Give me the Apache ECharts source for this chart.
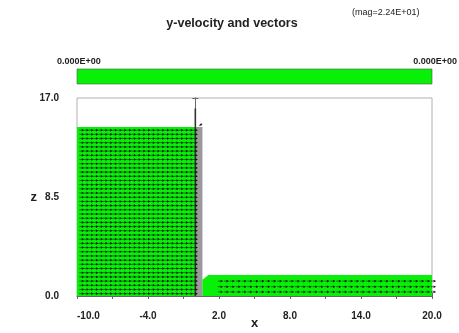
<!DOCTYPE html>
<html><head><meta charset="utf-8">
<script src="https://cdn.jsdelivr.net/npm/echarts@6/dist/echarts.min.js"></script>
<style>html,body{margin:0;padding:0;background:#fff;}#c{width:459px;height:333px;}</style>
</head><body><div id="c"></div>
<script>
// ---- data ----
const xTickLabels = [-10, -4, 2, 8, 14, 20];
const xTicks = [-10, -7, -4, -1, 2, 5, 8, 11, 14, 17, 20];
const zTickLabels = [0, 8.5, 17];
const zTicks = [0, 4.25, 8.5, 12.75, 17];
const colorbarLabels = ['0.000E+00', '0.000E+00'];
const titleText = 'y-velocity and vectors';
const magText = '(mag=2.24E+01)';

// fluid regions (x, z outlines)
const leftFluid = [[-10, 0], [-10, 14.5], [0, 14.5], [0, 0]];
const gapCells = [[0, 0], [0, 14.5], [0.6, 14.5], [0.6, 0]];
const rightFluid = [[0.6, 0], [0.6, 1.4], [1.1, 1.8], [20, 1.8], [20, 0]];
const wall = [[0, 0], [0, 16.1]];

// vector grid (cell positions) and speeds
const leftX = [-9.8,-9.4,-9.0,-8.6,-8.2,-7.8,-7.4,-7.0,-6.6,-6.2,-5.8,-5.4,-5.0,-4.6,-4.2,-3.8,-3.4,-3.0,-2.6,-2.2,-1.8,-1.4,-1.0,-0.6,-0.2];
const leftZ = [0.2,0.56,0.92,1.28,1.64,2.0,2.36,2.72,3.08,3.44,3.8,4.16,4.52,4.88,5.24,5.6,5.96,6.32,6.68,7.04,7.4,7.76,8.12,8.48,8.84,9.2,9.56,9.92,10.28,10.64,11.0,11.36,11.72,12.08,12.44,12.8,13.16,13.52,13.88,14.24];
const leftU = 21.0;
const rightX = [1.9,2.4,2.9,3.4,3.9,4.4,4.9,5.4,5.9,6.4,6.9,7.4,7.9,8.4,8.9,9.4,9.9,10.4,10.9,11.4,11.9,12.4,12.9,13.4,13.9,14.4,14.9,15.4,15.9,16.4,16.9,17.4,17.9,18.4,18.9,19.4,19.9];
const rightZ = [0.35, 0.8, 1.28];
const rightU = 22.4;
const extraVectors = [[0.3, 14.6, 15, 10]];

// ---- build ----
const vectors = [];
leftZ.forEach(z => leftX.forEach(x => vectors.push([x, z, leftU, 0])));
rightZ.forEach(z => rightX.forEach(x => vectors.push([x, z, rightU, 0])));
extraVectors.forEach(v => vectors.push(v));
const SC = 0.02;
const GREEN = '#08f008';
const FONT = '"Liberation Sans", Arial, sans-serif';

function polySeries(pts, fill) {
  return {
    type: 'custom', data: [0], silent: true, clip: false, z: 2,
    renderItem: (params, api) => ({
      type: 'polygon',
      shape: { points: pts.map(p => api.coord(p)) },
      style: { fill: fill }
    })
  };
}

const chart = echarts.init(document.getElementById('c'), null, { renderer: 'canvas' });
const axisLabelStyle = { color: '#222', fontSize: 10, fontWeight: 'bold', fontFamily: FONT };
chart.setOption({
  animation: false,
  backgroundColor: '#fff',
  grid: { left: 77, right: 27, top: 98, bottom: 37, containLabel: false, outerBoundsMode: 'none', show: true, borderColor: '#b0b0b0', borderWidth: 1, backgroundColor: 'transparent' },
  xAxis: [{
    type: 'value', min: -10, max: 20, position: 'bottom', offset: 9,
    name: 'x', nameLocation: 'middle', nameGap: 12, nameMoveOverlap: false,
    nameTextStyle: { color: '#222', fontSize: 13, fontWeight: 'bold', fontFamily: FONT, verticalAlign: 'top' },
    axisLine: { show: true, lineStyle: { color: '#666', width: 1 } },
    axisTick: { show: true, length: 3, customValues: xTicks, lineStyle: { color: '#666' } },
    axisLabel: Object.assign({ customValues: xTickLabels, margin: 6, alignMinLabel: 'left', formatter: v => v.toFixed(1) }, axisLabelStyle),
    splitLine: { show: false }
  }, {
    type: 'value', min: -10, max: 20, position: 'bottom', offset: 9,
    axisLine: { show: false },
    axisTick: { show: true, inside: true, length: 3, customValues: xTicks, lineStyle: { color: '#666' } },
    axisLabel: { show: false }, splitLine: { show: false }
  }],
  yAxis: [{
    type: 'value', min: 0, max: 17, position: 'left', offset: 10,
    name: 'z', nameLocation: 'middle', nameGap: 30, nameRotate: 0, nameMoveOverlap: false,
    nameTextStyle: { color: '#222', fontSize: 13, fontWeight: 'bold', fontFamily: FONT },
    axisLine: { show: true, lineStyle: { color: '#666', width: 1 } },
    axisTick: { show: true, length: 3, customValues: zTicks, lineStyle: { color: '#666' } },
    axisLabel: Object.assign({ customValues: zTickLabels, margin: 8, formatter: v => v.toFixed(1) }, axisLabelStyle),
    splitLine: { show: false }
  }, {
    type: 'value', min: 0, max: 17, position: 'left', offset: 10,
    axisLine: { show: false },
    axisTick: { show: true, inside: true, length: 3, customValues: zTicks, lineStyle: { color: '#666' } },
    axisLabel: { show: false }, splitLine: { show: false }
  }],
  graphic: [
    { type: 'text', x: 232, y: 24, style: { text: titleText, fill: '#222', font: 'bold 12.5px ' + FONT, align: 'center', verticalAlign: 'middle' } },
    { type: 'text', x: 352, y: 13, style: { text: magText, fill: '#222', font: '9px ' + FONT, align: 'left', verticalAlign: 'middle' } },
    { type: 'rect', shape: { x: 77, y: 69, width: 355, height: 15 }, style: { fill: GREEN, stroke: '#555', lineWidth: 0.6 } },
    { type: 'text', x: 57, y: 62, style: { text: colorbarLabels[0], fill: '#222', font: 'bold 9px ' + FONT, align: 'left', verticalAlign: 'middle' } },
    { type: 'text', x: 457, y: 62, style: { text: colorbarLabels[1], fill: '#222', font: 'bold 9px ' + FONT, align: 'right', verticalAlign: 'middle' } }
  ],
  series: [
    polySeries(leftFluid, GREEN),
    polySeries(gapCells, '#9a9a9a'),
    polySeries(rightFluid, GREEN),
    {
      type: 'custom', data: [0], silent: true, clip: false, z: 3,
      renderItem: (params, api) => {
        const a = api.coord(wall[0]), b = api.coord(wall[1]);
        return { type: 'line', shape: { x1: a[0], y1: a[1], x2: b[0], y2: b[1] }, style: { stroke: '#333', lineWidth: 1.6 } };
      }
    },
    {
      type: 'custom', data: vectors, silent: true, clip: false, z: 4, progressive: 0,
      renderItem: (params, api) => {
        const x = api.value(0), z = api.value(1), u = api.value(2), w = api.value(3);
        const p = api.coord([x, z]);
        const q = api.coord([x + u * SC, z + w * SC]);
        const dx = q[0] - p[0], dy = q[1] - p[1];
        const L = Math.hypot(dx, dy) || 1;
        const ux = dx / L, uy = dy / L;
        const hl = 2.6, hw = 1.3;
        const b = [q[0] - ux * hl, q[1] - uy * hl];
        return {
          type: 'group', children: [
            { type: 'line', shape: { x1: p[0], y1: p[1], x2: b[0], y2: b[1] }, style: { stroke: '#1a1a1a', lineWidth: 0.6 } },
            { type: 'polygon', shape: { points: [q, [b[0] - uy * hw, b[1] + ux * hw], [b[0] + uy * hw, b[1] - ux * hw]] }, style: { fill: '#111' } }
          ]
        };
      }
    }
  ]
});
</script></body></html>
